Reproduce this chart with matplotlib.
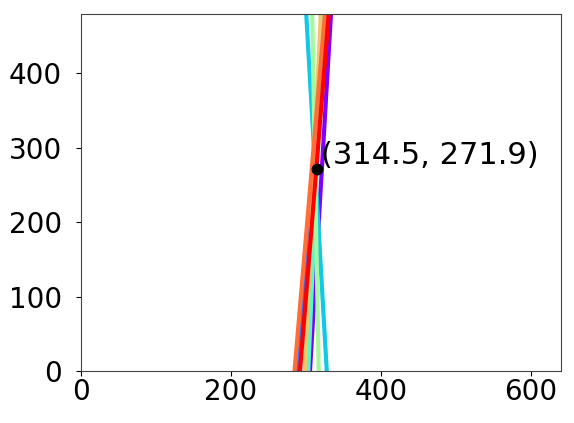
import matplotlib
matplotlib.use("Agg")
import matplotlib.pyplot as plt
import numpy as np

plt.rcParams['font.family'] = ['DejaVu Sans']

# image frame size (width x height)
img_w = 640
img_h = 480

# each line: x where it crosses y=0 and x where it crosses y=img_h
x_bottom = [305.3, 289.0, 327.7, 303.0, 316.9, 298.4, 284.7, 292.0]
x_top = [333.3, 327.0, 300.3, 323.1, 308.3, 319.6, 325.3, 330.3]

# estimated intersection point
pt_x = 314.5
pt_y = 271.9

fig = plt.figure(figsize=(5.74, 4.23), dpi=100)
ax = fig.add_axes([81 / 574, 52 / 423, 480 / 574, 357 / 423])

colors = plt.cm.rainbow(np.linspace(0, 1, len(x_bottom)))
for xb, xt, c in zip(x_bottom, x_top, colors):
    ax.plot([xb, xt], [0, img_h], color=c, lw=3)

ax.plot(pt_x, pt_y, 'o', color='black', ms=7.5, zorder=5)
ax.annotate('(%.1f, %.1f)' % (pt_x, pt_y), (pt_x, pt_y), xytext=(3, -1),
            textcoords='offset points', ha='left', va='bottom', fontsize=22)

ax.set_xlim(0, img_w)
ax.set_ylim(0, img_h)
ax.set_xticks([0, 200, 400, 600])
ax.set_yticks([0, 100, 200, 300, 400])
ax.tick_params(axis='both', labelsize=20)
ax.tick_params(axis='x', pad=1.5)
ax.tick_params(axis='y', pad=10)
for s in ax.spines.values():
    s.set_color('#444444')

fig.savefig("out.png", dpi=100)
